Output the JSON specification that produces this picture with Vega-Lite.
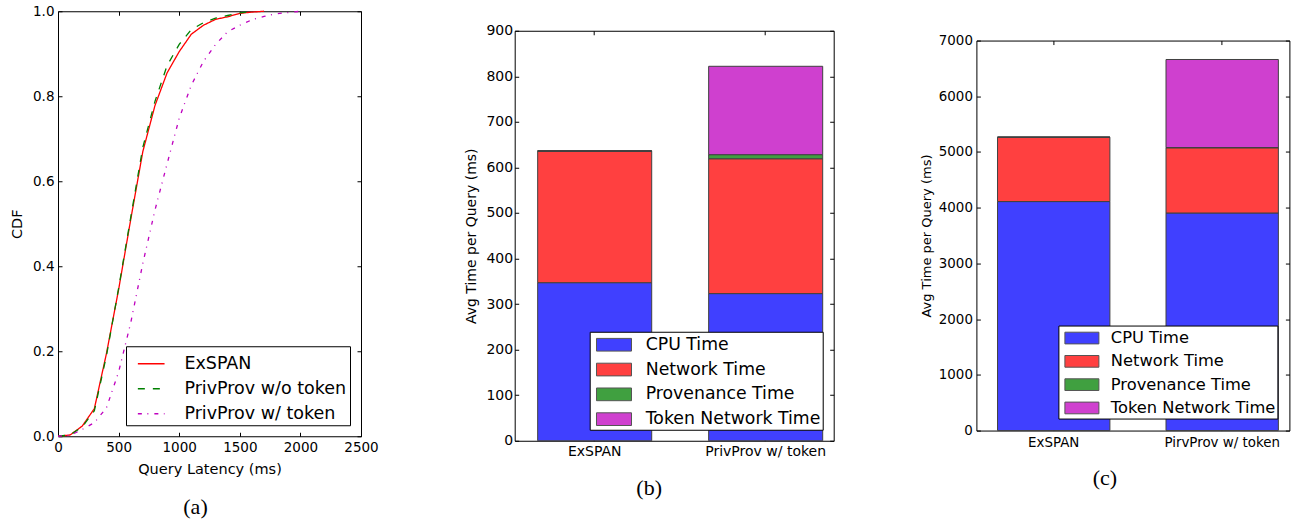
{
  "$schema": "https://vega.github.io/schema/vega-lite/v6.json",
  "background": "white",
  "padding": {"left": 9, "top": 3, "right": 0, "bottom": 0},
  "bounds": "full",
  "align": "each",
  "center": true,
  "spacing": 84.7,
  "resolve": {
    "scale": {"x": "independent", "y": "independent", "color": "independent", "strokeDash": "independent"},
    "legend": {"color": "independent", "strokeDash": "independent"},
    "axis": {"x": "independent", "y": "independent"}
  },
  "datasets": {
    "cdf": [
      {"s": "ExSPAN", "ms": 0, "p": 0}, {"s": "ExSPAN", "ms": 100, "p": 0.003}, {"s": "ExSPAN", "ms": 200, "p": 0.024}, {"s": "ExSPAN", "ms": 300, "p": 0.065}, {"s": "ExSPAN", "ms": 400, "p": 0.195}, {"s": "ExSPAN", "ms": 500, "p": 0.345}, {"s": "ExSPAN", "ms": 600, "p": 0.51}, {"s": "ExSPAN", "ms": 700, "p": 0.67}, {"s": "ExSPAN", "ms": 800, "p": 0.778}, {"s": "ExSPAN", "ms": 900, "p": 0.855}, {"s": "ExSPAN", "ms": 1000, "p": 0.905}, {"s": "ExSPAN", "ms": 1100, "p": 0.946}, {"s": "ExSPAN", "ms": 1200, "p": 0.967}, {"s": "ExSPAN", "ms": 1300, "p": 0.981}, {"s": "ExSPAN", "ms": 1400, "p": 0.987}, {"s": "ExSPAN", "ms": 1500, "p": 0.995}, {"s": "ExSPAN", "ms": 1600, "p": 0.998}, {"s": "ExSPAN", "ms": 1700, "p": 1.0},
      {"s": "PrivProv w/o token", "ms": 0, "p": 0}, {"s": "PrivProv w/o token", "ms": 100, "p": 0.003}, {"s": "PrivProv w/o token", "ms": 200, "p": 0.022}, {"s": "PrivProv w/o token", "ms": 300, "p": 0.06}, {"s": "PrivProv w/o token", "ms": 400, "p": 0.19}, {"s": "PrivProv w/o token", "ms": 500, "p": 0.348}, {"s": "PrivProv w/o token", "ms": 600, "p": 0.515}, {"s": "PrivProv w/o token", "ms": 700, "p": 0.68}, {"s": "PrivProv w/o token", "ms": 800, "p": 0.788}, {"s": "PrivProv w/o token", "ms": 900, "p": 0.872}, {"s": "PrivProv w/o token", "ms": 1000, "p": 0.922}, {"s": "PrivProv w/o token", "ms": 1100, "p": 0.957}, {"s": "PrivProv w/o token", "ms": 1200, "p": 0.973}, {"s": "PrivProv w/o token", "ms": 1300, "p": 0.984}, {"s": "PrivProv w/o token", "ms": 1400, "p": 0.99}, {"s": "PrivProv w/o token", "ms": 1500, "p": 0.996}, {"s": "PrivProv w/o token", "ms": 1600, "p": 1.0},
      {"s": "PrivProv w/ token", "ms": 0, "p": 0}, {"s": "PrivProv w/ token", "ms": 100, "p": 0.002}, {"s": "PrivProv w/ token", "ms": 200, "p": 0.016}, {"s": "PrivProv w/ token", "ms": 300, "p": 0.032}, {"s": "PrivProv w/ token", "ms": 400, "p": 0.067}, {"s": "PrivProv w/ token", "ms": 500, "p": 0.151}, {"s": "PrivProv w/ token", "ms": 600, "p": 0.267}, {"s": "PrivProv w/ token", "ms": 700, "p": 0.407}, {"s": "PrivProv w/ token", "ms": 800, "p": 0.532}, {"s": "PrivProv w/ token", "ms": 900, "p": 0.641}, {"s": "PrivProv w/ token", "ms": 1000, "p": 0.748}, {"s": "PrivProv w/ token", "ms": 1100, "p": 0.826}, {"s": "PrivProv w/ token", "ms": 1200, "p": 0.882}, {"s": "PrivProv w/ token", "ms": 1300, "p": 0.922}, {"s": "PrivProv w/ token", "ms": 1400, "p": 0.952}, {"s": "PrivProv w/ token", "ms": 1500, "p": 0.967}, {"s": "PrivProv w/ token", "ms": 1600, "p": 0.98}, {"s": "PrivProv w/ token", "ms": 1700, "p": 0.988}, {"s": "PrivProv w/ token", "ms": 1800, "p": 0.994}, {"s": "PrivProv w/ token", "ms": 1900, "p": 0.997}, {"s": "PrivProv w/ token", "ms": 2000, "p": 1.0}
    ],
    "bars_b": [
      {"system": "ExSPAN", "component": "CPU Time", "ord": 1, "value": 347},
      {"system": "ExSPAN", "component": "Network Time", "ord": 2, "value": 288},
      {"system": "ExSPAN", "component": "Provenance Time", "ord": 3, "value": 1.5},
      {"system": "ExSPAN", "component": "Token Network Time", "ord": 4, "value": 0},
      {"system": "PrivProv w/ token", "component": "CPU Time", "ord": 1, "value": 323},
      {"system": "PrivProv w/ token", "component": "Network Time", "ord": 2, "value": 296},
      {"system": "PrivProv w/ token", "component": "Provenance Time", "ord": 3, "value": 9},
      {"system": "PrivProv w/ token", "component": "Token Network Time", "ord": 4, "value": 194}
    ],
    "bars_c": [
      {"system": "ExSPAN", "component": "CPU Time", "ord": 1, "value": 4110},
      {"system": "ExSPAN", "component": "Network Time", "ord": 2, "value": 1150},
      {"system": "ExSPAN", "component": "Provenance Time", "ord": 3, "value": 8},
      {"system": "ExSPAN", "component": "Token Network Time", "ord": 4, "value": 0},
      {"system": "PirvProv w/ token", "component": "CPU Time", "ord": 1, "value": 3905},
      {"system": "PirvProv w/ token", "component": "Network Time", "ord": 2, "value": 1170},
      {"system": "PirvProv w/ token", "component": "Provenance Time", "ord": 3, "value": 5},
      {"system": "PirvProv w/ token", "component": "Token Network Time", "ord": 4, "value": 1580}
    ]
  },
  "hconcat": [
    {
      "width": 303,
      "height": 425,
      "data": {"name": "cdf"},
      "title": {"text": "(a)", "orient": "bottom", "anchor": "middle", "font": "Liberation Serif", "fontSize": 22, "fontWeight": "normal", "color": "black", "offset": 21, "dx": -14},
      "layer": [
        {
          "mark": {"type": "line", "strokeWidth": 1.3},
          "encoding": {
            "x": {"field": "ms", "type": "quantitative", "scale": {"domain": [0, 2500], "nice": false}, "axis": {"orient": "bottom", "values": [0, 500, 1000, 1500, 2000, 2500], "format": "d", "title": "Query Latency (ms)", "labelFontSize": 13.5, "titleFontSize": 14.5, "labelFlush": false, "labelOverlap": false, "titlePadding": 9}},
            "y": {"field": "p", "type": "quantitative", "scale": {"domain": [0, 1], "nice": false}, "axis": {"orient": "left", "values": [0, 0.2, 0.4, 0.6, 0.8, 1.0], "format": ".1f", "title": "CDF", "labelFontSize": 13.5, "titleFontSize": 14.5, "titlePadding": 8}},
            "color": {"field": "s", "type": "nominal", "scale": {"domain": ["ExSPAN", "PrivProv w/o token", "PrivProv w/ token"], "range": ["#ff0000", "#008000", "#bf00bf"]}, "legend": {"title": null, "orient": "bottom-right", "offset": 11, "symbolType": "stroke", "symbolSize": 713, "symbolStrokeWidth": 1.3, "labelFontSize": 17.5, "labelOffset": 18.7, "padding": 3, "symbolOffset": 7.7, "rowPadding": 2, "strokeColor": "black", "fillColor": "white", "cornerRadius": 0, "labelLimit": 400, "labelColor": "black"}},
            "strokeDash": {"field": "s", "type": "nominal", "scale": {"domain": ["ExSPAN", "PrivProv w/o token", "PrivProv w/ token"], "range": [[1, 0], [7, 8], [4, 5.5, 1, 6]]}, "legend": {"title": null}}
          }
        },
        {
          "mark": {"type": "point", "opacity": 0},
          "encoding": {
            "x": {"field": "ms", "type": "quantitative", "scale": {"domain": [0, 2500], "nice": false}, "axis": {"orient": "top", "values": [0, 500, 1000, 1500, 2000, 2500], "labels": false, "title": null}},
            "y": {"field": "p", "type": "quantitative", "scale": {"domain": [0, 1], "nice": false}, "axis": {"orient": "right", "values": [0, 0.2, 0.4, 0.6, 0.8, 1.0], "labels": false, "title": null}}
          }
        }
      ],
      "resolve": {"axis": {"x": "independent", "y": "independent"}}
    },
    {
      "width": 319,
      "height": 410,
      "data": {"name": "bars_b"},
      "title": {"text": "(b)", "orient": "bottom", "anchor": "middle", "font": "Liberation Serif", "fontSize": 22, "fontWeight": "normal", "color": "black", "offset": 19, "dx": -25},
      "layer": [
        {
          "mark": {"type": "bar", "stroke": "#404040", "strokeWidth": 1},
          "encoding": {
            "x": {"field": "system", "type": "nominal", "scale": {"domain": ["ExSPAN", "PrivProv w/ token"], "paddingInner": 0.333, "paddingOuter": 0.0994, "align": 0.676}, "axis": {"orient": "bottom", "title": null, "labelAngle": 0, "labelFontSize": 14}},
            "y": {"field": "value", "type": "quantitative", "stack": "zero", "scale": {"domain": [0, 900], "nice": false}, "axis": {"orient": "left", "values": [0, 100, 200, 300, 400, 500, 600, 700, 800, 900], "format": "d", "title": "Avg Time per Query (ms)", "labelFontSize": 14, "titleFontSize": 14, "labelPadding": 6, "titlePadding": 7}},
            "color": {"field": "component", "type": "nominal", "scale": {"domain": ["CPU Time", "Network Time", "Provenance Time", "Token Network Time"], "range": ["#4040ff", "#ff4040", "#40a040", "#cf40cf"]}, "legend": {"title": null, "orient": "bottom-right", "offset": 11, "symbolType": "M-1.667,-0.605L1.667,-0.605L1.667,0.605L-1.667,0.605Z", "symbolSize": 441, "symbolOffset": 11.3, "symbolStrokeColor": "#555555", "symbolStrokeWidth": 1, "labelFontSize": 17.3, "labelOffset": 20.7, "padding": 2, "rowPadding": 4.8, "strokeColor": "black", "fillColor": "white", "cornerRadius": 0, "labelLimit": 400, "labelColor": "black"}},
            "order": {"field": "ord", "type": "quantitative"}
          }
        },
        {
          "mark": {"type": "bar", "opacity": 0},
          "encoding": {
            "x": {"field": "system", "type": "nominal", "scale": {"domain": ["ExSPAN", "PrivProv w/ token"], "paddingInner": 0.333, "paddingOuter": 0.0994, "align": 0.676}, "axis": {"orient": "top", "labels": false, "title": null}},
            "y": {"field": "value", "type": "quantitative", "stack": null, "scale": {"domain": [0, 900], "nice": false}, "axis": {"orient": "right", "values": [0, 100, 200, 300, 400, 500, 600, 700, 800, 900], "labels": false, "title": null}}
          }
        }
      ],
      "resolve": {"axis": {"x": "independent", "y": "independent"}}
    },
    {
      "width": 313,
      "height": 390,
      "data": {"name": "bars_c"},
      "title": {"text": "(c)", "orient": "bottom", "anchor": "middle", "font": "Liberation Serif", "fontSize": 22, "fontWeight": "normal", "color": "black", "offset": 19, "dx": -28},
      "layer": [
        {
          "mark": {"type": "bar", "stroke": "#404040", "strokeWidth": 1},
          "encoding": {
            "x": {"field": "system", "type": "nominal", "scale": {"domain": ["ExSPAN", "PirvProv w/ token"], "paddingInner": 0.333, "paddingOuter": 0.0955, "align": 0.657}, "axis": {"orient": "bottom", "title": null, "labelAngle": 0, "labelFontSize": 13.4, "labelPadding": 9}},
            "y": {"field": "value", "type": "quantitative", "stack": "zero", "scale": {"domain": [0, 7000], "nice": false}, "axis": {"orient": "left", "values": [0, 1000, 2000, 3000, 4000, 5000, 6000, 7000], "format": "d", "title": "Avg Time per Query (ms)", "labelFontSize": 13.4, "titleFontSize": 13, "titlePadding": 5}},
            "color": {"field": "component", "type": "nominal", "scale": {"domain": ["CPU Time", "Network Time", "Provenance Time", "Token Network Time"], "range": ["#4040ff", "#ff4040", "#40a040", "#cf40cf"]}, "legend": {"title": null, "orient": "bottom-right", "offset": 12, "symbolType": "M-1.619,-0.557L1.619,-0.557L1.619,0.557L-1.619,0.557Z", "symbolSize": 441, "symbolOffset": 11, "symbolStrokeColor": "#555555", "symbolStrokeWidth": 1, "labelFontSize": 16.3, "labelOffset": 17.9, "padding": 1.5, "rowPadding": 3.3, "strokeColor": "black", "fillColor": "white", "cornerRadius": 0, "labelLimit": 400, "labelColor": "black"}},
            "order": {"field": "ord", "type": "quantitative"}
          }
        },
        {
          "mark": {"type": "bar", "opacity": 0},
          "encoding": {
            "x": {"field": "system", "type": "nominal", "scale": {"domain": ["ExSPAN", "PirvProv w/ token"], "paddingInner": 0.333, "paddingOuter": 0.0955, "align": 0.657}, "axis": {"orient": "top", "labels": false, "title": null}},
            "y": {"field": "value", "type": "quantitative", "stack": null, "scale": {"domain": [0, 7000], "nice": false}, "axis": {"orient": "right", "values": [0, 1000, 2000, 3000, 4000, 5000, 6000, 7000], "labels": false, "title": null}}
          }
        }
      ],
      "resolve": {"axis": {"x": "independent", "y": "independent"}}
    }
  ],
  "config": {
    "font": "DejaVu Sans",
    "view": {"stroke": "black", "strokeWidth": 1},
    "axis": {"grid": false, "domain": false, "tickColor": "black", "tickSize": -4, "tickWidth": 1, "labelColor": "black", "titleColor": "black", "titleFontWeight": "normal", "labelPadding": 8}
  }
}
